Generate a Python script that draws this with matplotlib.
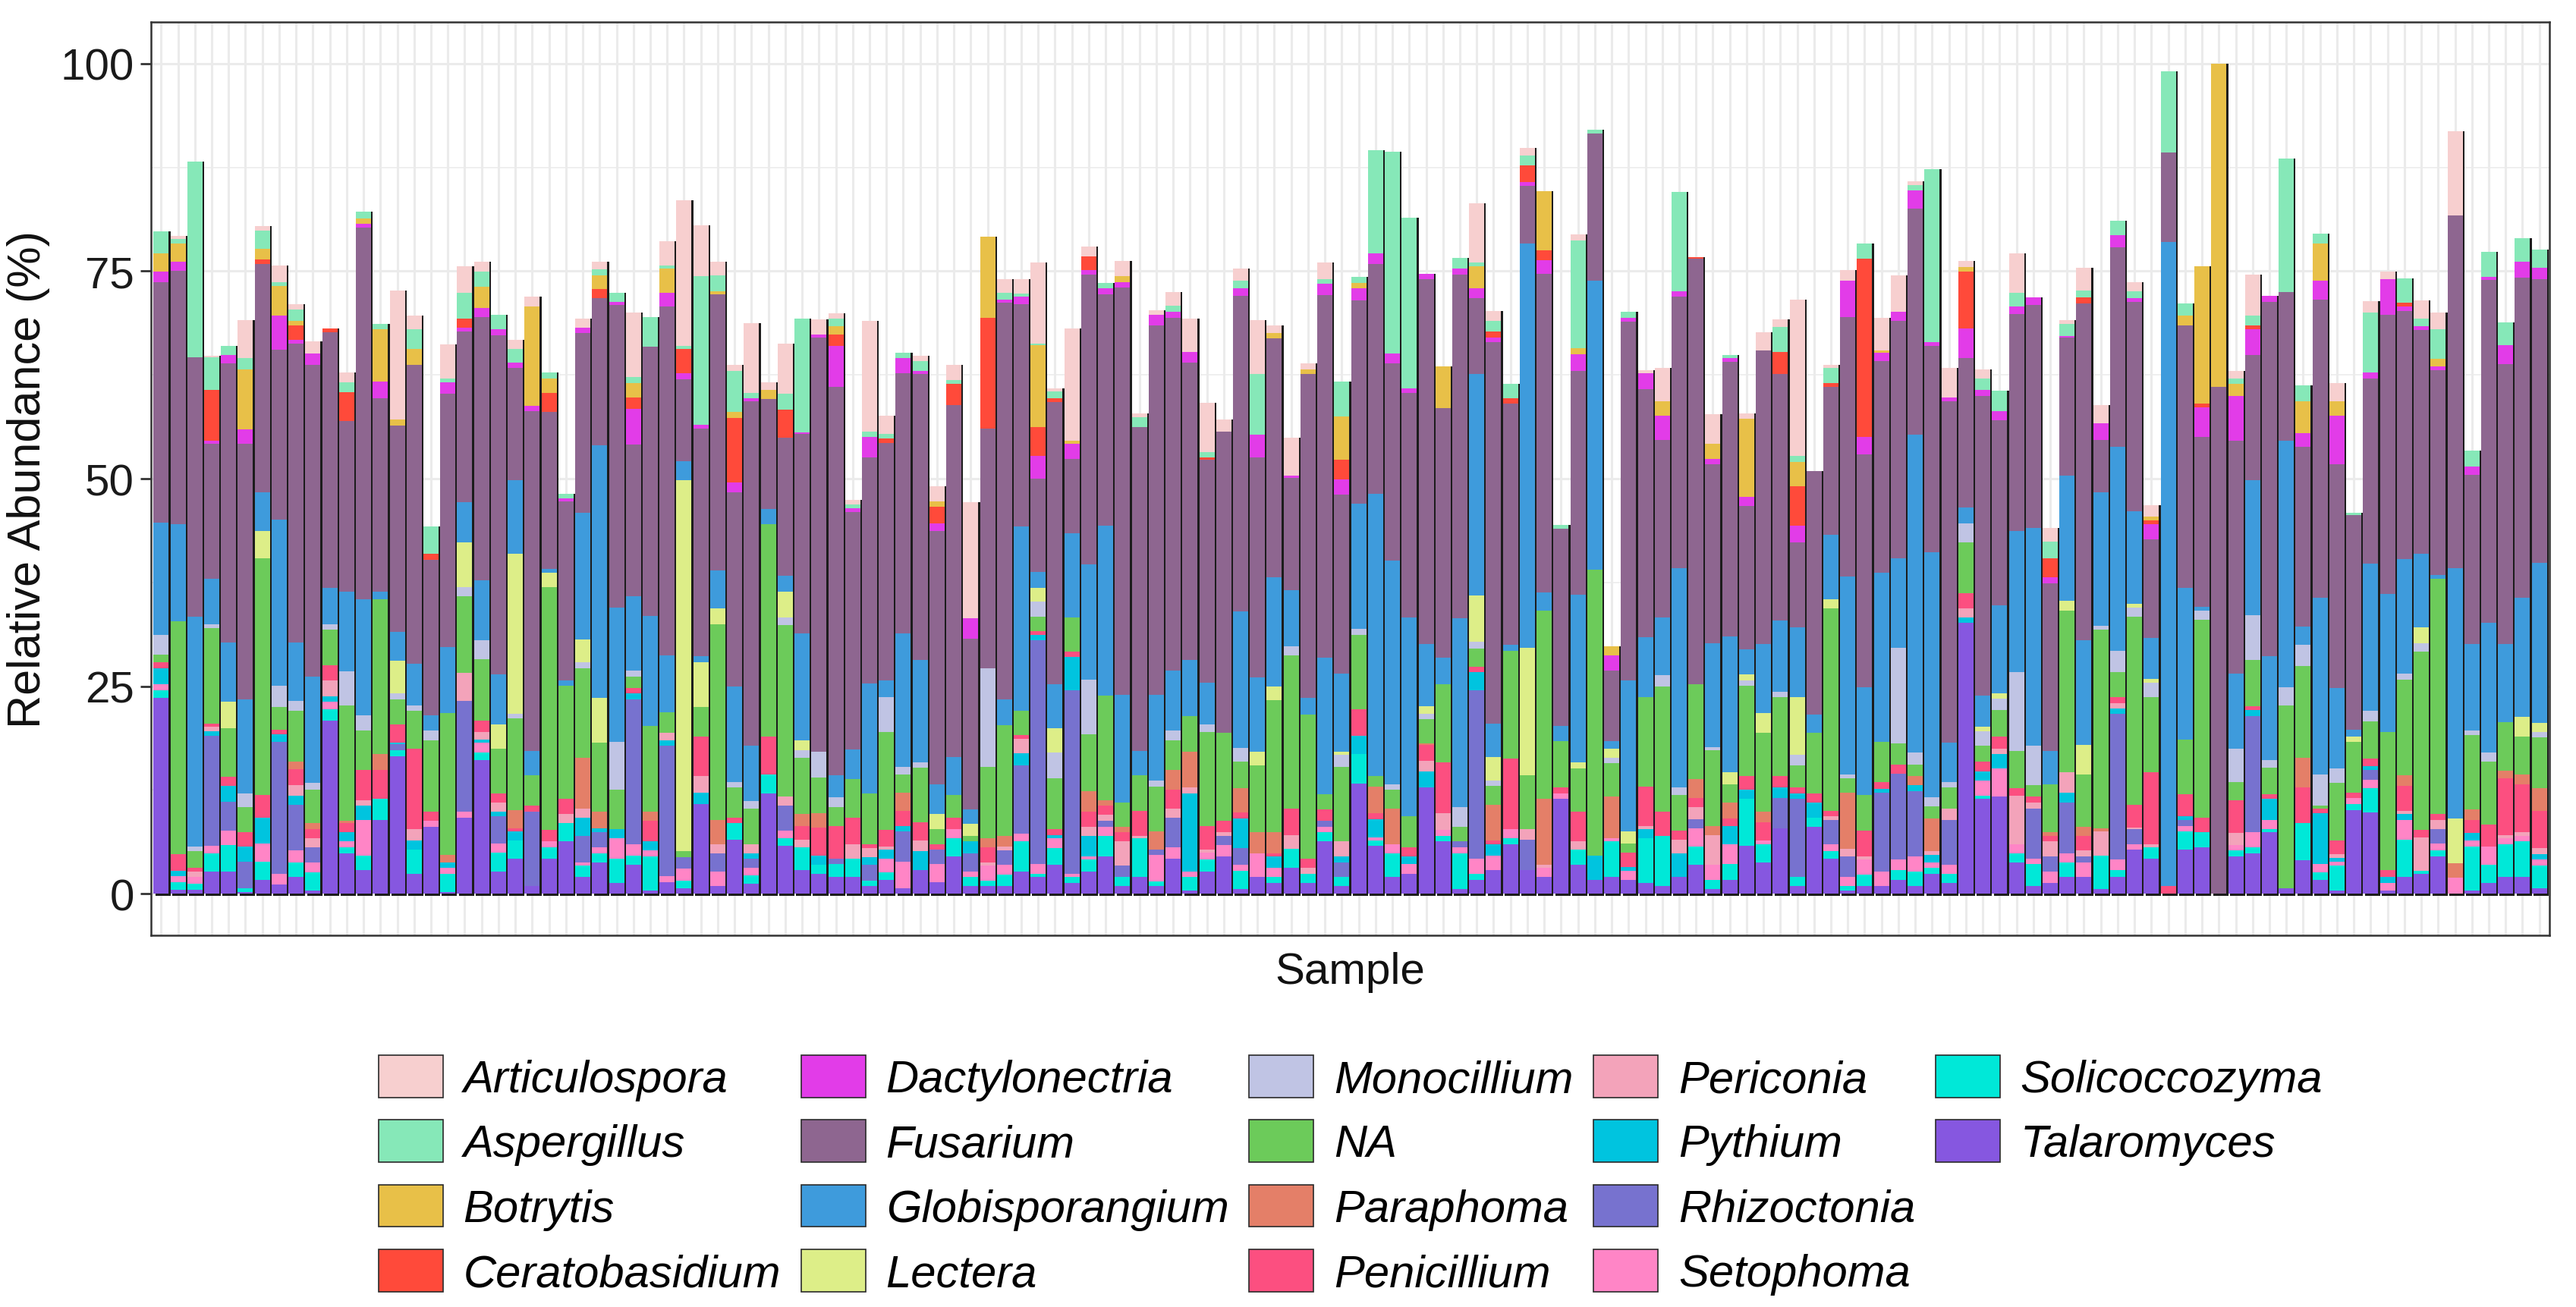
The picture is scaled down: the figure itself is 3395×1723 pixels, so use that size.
import matplotlib
matplotlib.use("Agg")
import matplotlib.pyplot as plt
from matplotlib.patches import Patch
import numpy as np

plt.rcParams['font.family'] = ['Liberation Sans', 'DejaVu Sans']

# ---------------- data (relative abundance %, 142 samples) ----------------
genera = ["Articulospora", "Aspergillus", "Botrytis", "Ceratobasidium", "Dactylonectria",
          "Fusarium", "Globisporangium", "Lectera", "Monocillium", "NA", "Paraphoma",
          "Penicillium", "Periconia", "Pythium", "Rhizoctonia", "Setophoma",
          "Solicoccozyma", "Talaromyces"]

colors = {"Articulospora": "#F7CFCF", "Aspergillus": "#86E8B8", "Botrytis": "#E8C048",
          "Ceratobasidium": "#FF4A3A", "Dactylonectria": "#E23CE8", "Fusarium": "#8E6690",
          "Globisporangium": "#3E9BDC", "Lectera": "#DDEE88", "Monocillium": "#C0C4E4",
          "NA": "#6CCB5A", "Paraphoma": "#E47F68", "Penicillium": "#FC4F80",
          "Periconia": "#F3A3BA", "Pythium": "#00C4DF", "Rhizoctonia": "#7772CF",
          "Setophoma": "#FF85C6", "Solicoccozyma": "#00E8D8", "Talaromyces": "#8657E0"}

talaromyces = [23.6, 0.5, 0.5, 2.7, 2.7, 0.2, 1.7, 1.1, 2, 0.4,
               20.9, 4.9, 2.9, 8.9, 16.6, 2.4, 8.1, 0.2, 9.2, 16.1,
               2.7, 4.2, 0.9, 4.2, 6.3, 2, 3.8, 1.3, 3.5, 0.4,
               1.4, 0.7, 10.8, 0.9, 6.5, 1.2, 12.1, 5.8, 2.9, 2.4,
               2, 2, 0.9, 1.7, 0.7, 2.9, 1.4, 4.5, 0.9, 0.9,
               0.9, 2.7, 2, 3.5, 1.3, 2.7, 4.5, 0.9, 2, 0.9,
               4.2, 0.4, 2.7, 4.5, 0.6, 2, 1.3, 3.1, 1.3, 6.3,
               0.9, 13.3, 5.8, 2, 2.4, 12.8, 6.3, 0.6, 1.7, 2.9,
               6, 2.9, 2, 11.4, 3.5, 1.7, 2, 1.7, 1.3, 0.9,
               2, 3.5, 0.6, 1.7, 5.8, 3.8, 7.9, 0.9, 8.1, 4.2,
               0.4, 0.9, 0.9, 1.7, 0.9, 2.4, 1.3, 32.6, 11.4, 11.7,
               3.8, 0.9, 1.3, 2, 2, 0.6, 2, 5.3, 4.2, 0,
               5.3, 5.6, 0, 4.5, 4.9, 7.4, 0.7, 4, 1.7, 0.4,
               10.1, 9.8, 0.4, 2, 2.4, 4.5, 0, 0.4, 1.3, 2,
               2, 0.7]

solicoccozyma = [0.9, 0.9, 0.7, 2.2, 3.2, 0.5, 2.2, 0, 1.8, 2.2,
                 1.3, 0.7, 1.7, 2.5, 0.7, 2.9, 0, 2.2, 0, 0.9,
                 2.3, 2.2, 0, 1.4, 2.2, 1.4, 1.1, 2.9, 1.1, 4.1,
                 0, 0.9, 0, 0, 2, 1, 2.3, 0.9, 2.7, 1.1,
                 1.6, 2.2, 0.7, 0.9, 0, 0, 0, 2.2, 1.1, 0.7,
                 1.4, 3.6, 0.4, 2, 0.7, 1.4, 2.5, 1.1, 4.7, 0.6,
                 0, 1.6, 1.4, 0, 2.2, 0, 0.7, 2.3, 1.1, 1.1,
                 1.1, 3.5, 0.6, 2.9, 0, 0, 0.7, 4.3, 0.7, 0,
                 0.7, 0, 0, 0, 1.8, 0, 4.3, 0, 5.4, 6.1,
                 0, 2.2, 1.1, 1.9, 5.6, 2.2, 0, 1.1, 1.1, 0.9,
                 0.5, 1.4, 0, 1.2, 1.8, 0.7, 1.1, 0, 0.4, 0,
                 1.1, 2.7, 0, 1.8, 0, 4, 0.9, 0, 1.4, 0,
                 2.2, 1.8, 0, 0.7, 0.7, 0.4, 0, 4.5, 0.9, 3,
                 0.7, 2.9, 0, 4.5, 0.4, 0.7, 0, 5.3, 2.2, 4,
                 4.3, 2.7]

setophoma = [0.7, 0.7, 0.8, 0.9, 1.7, 0, 2.2, 1.3, 1.4, 1.2,
             0.9, 0.7, 4.3, 0, 0, 0, 0.7, 0.7, 0.7, 1.2,
             1.1, 0, 0, 0.7, 0, 0.4, 0.7, 2.5, 1.4, 0.7,
             0.7, 1.4, 0, 1.8, 0, 0.9, 0, 0.9, 0, 0,
             0, 0, 0, 1.6, 3.2, 0, 2.2, 1.1, 0.7, 1.8,
             1.2, 0.9, 1.2, 1.2, 0.4, 0.4, 1.1, 0, 0, 3.2,
             1.4, 0.7, 0.9, 1.4, 0.7, 2.9, 1.1, 0, 0, 0.7,
             0, 0, 0.4, 1.1, 1.2, 0, 0.7, 0.7, 1.8, 1.7,
             1.1, 0, 1.1, 0.7, 0, 0, 0.4, 1.1, 0, 0,
             0, 2.2, 1.8, 2.4, 0, 0.4, 0, 0, 0, 0.9,
             1.1, 1.8, 1.8, 1.2, 1.8, 0.7, 1.1, 0, 1.8, 3.4,
             1.1, 0.6, 1.4, 1.1, 1.8, 0, 1.2, 0.7, 0, 0,
             0.7, 0, 0, 0.7, 1.8, 1.1, 0, 0, 1, 0.5,
             0.7, 1, 0.9, 2.4, 0, 0.9, 1.9, 0.7, 2.2, 0.7,
             0.7, 0.7]

rhizoctonia = [0, 0, 0, 13.2, 3.5, 3.2, 0, 15.9, 5.5, 1.8,
               0, 0, 0, 0, 0.7, 0, 0, 0, 13.3, 0,
               3.2, 0, 9, 0, 0, 3.2, 1.8, 0, 17.4, 0,
               15.7, 1.4, 0, 2.2, 0, 1.1, 0, 3, 0, 0,
               0.6, 0, 1.9, 0, 3.6, 0, 1.7, 0, 2.2, 0,
               1.7, 8.3, 26.9, 0, 22.1, 0, 0.7, 1.4, 0, 0.6,
               3.6, 0, 0, 1.1, 2, 0, 0, 0, 0, 0.7,
               1.8, 0, 0, 0, 0, 0, 0, 0.7, 20.3, 0,
               0, 3.6, 0, 0, 0, 0, 0, 0, 0, 0,
               0, 1.1, 0, 0, 0, 0, 3.6, 9.4, 0, 2.9,
               2.5, 0, 9.5, 10.4, 7.9, 0, 5.4, 0, 0, 0,
               0, 6.1, 1.8, 6.1, 0.7, 0, 17.6, 1.8, 0, 0,
               0.7, 0, 0, 0, 14, 0, 0, 0, 0, 0,
               0, 1.2, 0, 0, 0, 1.7, 0, 0, 0, 0,
               0, 0]

pythium = [2.0, 0.7, 0, 0.6, 1.9, 1.8, 3.1, 0.9, 1.1, 0,
           0.7, 1.1, 1.7, 0, 0.2, 1.1, 0, 0.7, 0, 0.4,
           0.6, 1.1, 0, 0, 0, 2.2, 0.5, 1.1, 0.7, 1.1,
           0.7, 0, 1.4, 0, 0, 0.7, 0, 0, 0, 1.1,
           0, 0, 0.9, 1.1, 0.7, 2.2, 0, 0, 1.4, 0,
           0, 1.4, 0.7, 0.4, 4, 2.5, 0, 0, 0, 0,
           0, 9.4, 0, 0, 3.6, 0, 1.4, 0, 0, 0,
           0.7, 2.2, 2.2, 0, 0.9, 1.9, 0, 0, 2.2, 1.4,
           0, 0, 0, 0, 0, 2.9, 0, 0.4, 1.1, 0,
           2.9, 0, 0, 2.2, 1.1, 0, 1.3, 0.7, 1.8, 0,
           0, 0, 0.4, 0, 0.7, 0.9, 0, 0.7, 1.1, 1.7,
           0, 0, 0, 1.2, 0, 0, 0.6, 0, 0, 0,
           0.4, 0, 0, 0, 0.7, 2.5, 0, 0, 6.1, 0.4,
           0, 0.5, 0.7, 0.7, 0, 0, 0, 0.9, 0, 0,
           0, 0.7]

periconia = [0, 0, 0.7, 0.5, 0, 0, 0, 0, 1.3, 1.1,
             1.9, 0, 0.7, 0, 0, 1.4, 0, 0, 3.4, 0.9,
             1.1, 0, 0, 0, 1.1, 1.1, 0, 0, 0, 0,
             0.9, 0, 2, 1.1, 0, 1.1, 0, 1.1, 0.9, 0,
             0, 1.8, 1.1, 0.4, 0, 1.3, 0, 0, 0, 0.4,
             0.5, 1.8, 0, 0, 0, 1.1, 0.7, 2.9, 0.3, 0,
             1.1, 0.7, 0.3, 0.4, 0, 0, 0, 1.7, 0.7, 0,
             1.8, 0, 0, 0, 0, 1.3, 2, 0, 0, 0,
             0, 1.3, 0.4, 0, 1, 0, 0, 0, 0.4, 0,
             1.6, 1.4, 3.6, 0, 0, 0, 0, 0, 0, 0.4,
             0.9, 0.4, 0, 0, 0, 0.4, 1.4, 1.1, 0, 0.7,
             5.8, 0.7, 1.8, 2.4, 0.7, 2.9, 0.7, 0.2, 0.4, 0,
             0, 0, 0, 1.4, 0, 0, 0, 0, 0, 0.5,
             0, 0, 0, 0.4, 4, 1.1, 0, 0, 0, 0.4,
             0.4, 0.7]

penicillium = [0.7, 2.0, 0.4, 0.4, 1.1, 1.7, 2.7, 0.6, 1.9, 1.1,
               1.8, 1.1, 3.6, 3.5, 2.2, 9.7, 1.1, 0, 0, 1.4,
               1.1, 0.4, 0.7, 1.4, 1.8, 0, 0, 0, 0.7, 2.5,
               0, 0, 4.7, 0, 0.7, 0, 4.5, 0, 1.7, 3.4,
               4, 3.2, 0.5, 2, 1.8, 2.2, 0.7, 1.4, 0, 1.8,
               0, 0.4, 0.4, 0.7, 0.7, 1.8, 1.1, 1.1, 3, 0,
               2.2, 0, 2.9, 1.4, 0.7, 0, 0.4, 3.2, 1.1, 1.4,
               0, 3.2, 0.7, 0, 1.1, 1.9, 6.1, 0, 0.6, 0.4,
               8.5, 0, 0, 0.7, 3.6, 0, 0, 1.8, 4.7, 2.9,
               1.1, 1.1, 0, 0.9, 1.7, 2.2, 1.4, 0.7, 1.1, 0.7,
               0, 3.1, 0.9, 1.1, 0, 0, 0, 1.8, 1.2, 1.4,
               0.9, 0.7, 0.7, 0, 1.8, 0, 0.7, 2.7, 8.6, 0.9,
               2.7, 1.8, 0, 4, 0.5, 0.6, 0, 4.3, 0.6, 1.6,
               0.7, 0.9, 0.9, 3, 0.9, 0.7, 0, 1.6, 2.6, 6.8,
               5.8, 4.5]

paraphoma = [0, 0, 0, 0, 0, 0, 0, 0, 0.9, 0.7,
             0, 0.3, 0, 1.9, 0, 0, 0, 0.9, 0, 0,
             0, 2.2, 0, 0, 0, 6.1, 2, 0, 0, 1.1,
             0, 0, 0, 2.9, 0, 0, 0, 0, 1.4, 1.7,
             0, 0, 0, 0, 2.2, 0, 0, 0, 0, 1.1,
             1.3, 0, 0, 0, 0, 2.5, 0.7, 0.7, 0, 2.2,
             2.4, 4.3, 0, 0, 2.9, 2.5, 2.5, 0, 0, 0,
             0, 0, 3.2, 4.3, 0, 0.2, 0, 0, 0, 4.3,
             0, 0, 7.9, 0, 0, 0, 5, 0, 0, 0,
             0, 2.3, 1.1, 1.9, 0, 1.3, 0, 0, 0, 0,
             6.8, 0, 0, 0, 1.1, 4, 0, 0, 0, 0,
             0, 0, 0.4, 0, 1.1, 0.4, 0, 0, 0, 0,
             0, 0, 0, 0, 0, 0, 0, 3.6, 0, 0,
             0, 0, 0, 1.3, 0, 0, 1.8, 1.3, 0, 0.9,
             1.2, 2.7]

na_group = [0.9, 28, 2, 11.5, 5.8, 3, 28.5, 2.7, 6.1, 4,
            4.3, 13.9, 4.8, 18.7, 3, 4.5, 8.6, 17.1, 9.2, 7.4,
            5.4, 11, 3.7, 29.2, 13.7, 10.8, 8.3, 4.7, 1.4, 10.3,
            2.5, 0.7, 3.6, 23.6, 3.6, 4.3, 25.6, 20.7, 6.8, 4.3,
            2.2, 4.6, 6.1, 11.8, 2.2, 6.6, 1.8, 2.7, 0.7, 8.6,
            13.3, 2.9, 1.8, 6.1, 4.1, 6.8, 12.6, 2.9, 4.3, 5.4,
            3.6, 4.3, 11.3, 10.6, 3.2, 8.1, 15.9, 18.4, 17.4, 1.8,
            9, 9, 1.3, 2.2, 3.7, 2.9, 9.4, 1.8, 2.2, 2.3,
            13, 6.5, 22.7, 5.6, 5.2, 34.4, 4, 1.1, 10.8, 15.1,
            4.3, 11.4, 9.1, 2.2, 10.9, 9.5, 9.5, 2.7, 7.3, 24.4,
            1.7, 4.3, 4.8, 2.5, 1.4, 1.4, 2.5, 6.1, 1.9, 3.2,
            4.5, 1.4, 5.8, 19.5, 6.3, 23.9, 3, 22.7, 9.1, 0,
            6.6, 23.8, 0, 2.2, 5.6, 3.2, 22, 11, 0.3, 7,
            6.1, 4.5, 16.6, 11.5, 21.5, 28.3, 0, 8.9, 7.6, 5.9,
            4.5, 6.1]

monocillium = [2.4, 0, 0.6, 0.5, 0, 1.7, 0, 2.6, 1.2, 0.9,
               0.7, 4.1, 1.8, 0, 0.7, 0.7, 1.2, 0, 1.1, 2.2,
               0, 0.6, 0, 0, 0, 0.7, 0, 5.8, 0.7, 0,
               0, 0, 0, 0, 0.7, 0.9, 0, 0.9, 0.9, 3.1,
               1.2, 0, 0, 4.2, 0.9, 0.6, 0, 0, 0, 11.9,
               0, 0, 1.8, 3.1, 0, 6.6, 0, 0, 0, 0.7,
               1.2, 0, 0.9, 0, 1.7, 0, 0, 1.1, 0, 0,
               1.4, 0.7, 0, 0.7, 0, 0.7, 0, 2.3, 0.9, 0.6,
               0, 0, 0, 0, 0, 0, 0.7, 0, 0, 1.3,
               0.9, 0, 0.4, 0, 0.6, 0, 0.6, 1.2, 0, 0,
               0.5, 0, 0, 11.5, 1.4, 1.1, 0.7, 2.3, 1.8, 1.4,
               9.5, 4.7, 0, 0, 0, 0.5, 2.6, 1.1, 1.7, 0,
               0, 1.1, 0, 4, 5.4, 0.9, 2.2, 2.6, 3.8, 1.7,
               0, 1.2, 0, 0.7, 1, 0, 0, 0.6, 1.1, 0,
               0, 0.7]

lectera = [0, 0, 0, 0, 3.2, 0, 3.3, 0, 0, 0,
           0, 0, 0, 0, 4, 0, 0, 0, 5.4, 0,
           2.9, 19.3, 0, 1.8, 0, 2.7, 5.4, 0, 0, 0,
           0, 44.7, 5.4, 1.9, 0, 0, 0, 3.1, 1.2, 0,
           0, 0, 0, 0, 0, 0, 1.8, 0, 1.4, 0,
           0, 0, 1.6, 2.9, 0, 0, 0, 0, 0, 0,
           0, 0, 0, 0, 0, 1.6, 1.7, 0, 0, 0,
           0.4, 0, 0, 0, 0, 0.9, 0, 0, 5.5, 2.9,
           0, 15.3, 0, 0, 0.7, 0, 1.1, 1.4, 0, 0,
           0, 0, 0, 1.4, 0.7, 2.4, 0, 7, 0, 1.1,
           0, 0, 0, 0, 0, 0, 0, 0, 0.5, 0.6,
           0, 0, 0, 1.2, 3.5, 0, 0, 0.4, 0.5, 0,
           0, 0, 0, 0, 0, 0, 0, 0, 0, 0,
           0.6, 0, 0, 0, 1.9, 0, 5.4, 0, 0, 0,
           2.4, 1.1]

globisporangium = [13.5, 11.7, 27.7, 5.4, 7.2, 11.3, 4.7, 20, 7.1, 12.8,
                   4.3, 9.6, 14, 0.9, 3.4, 5, 1.8, 7.9, 4.9, 7.3,
                   6, 8.8, 2.9, 0.4, 0.6, 15.3, 30.4, 16.2, 8.9, 13.3,
                   6.8, 2.3, 0.7, 4.5, 11.5, 6.6, 1.8, 1.9, 12.9, 0,
                   2.7, 3.6, 13.2, 2, 16.1, 12.4, 3.6, 4.6, 1.8, 0,
                   3.1, 22.2, 2, 5.3, 10.1, 13.9, 20.4, 13, 2.9, 10.4,
                   7.2, 6.8, 5, 0, 16.4, 9, 13.1, 6.8, 2, 16.4,
                   9.4, 15.1, 34, 26.9, 24, 7.5, 3.2, 22.8, 26.7, 4,
                   0.7, 48.7, 2.2, 1.8, 20.2, 34.8, 0.9, 18.2, 7.2, 7,
                   26.4, 0, 12.5, 16.4, 3, 8.3, 8.6, 8.4, 2.2, 7.7,
                   23.8, 13, 20.4, 10.8, 38.3, 29.5, 4.7, 1.9, 3.8, 10.6,
                   17, 26.3, 4, 15.1, 12.6, 16.1, 24.5, 11.2, 4.9, 77.6,
                   18.2, 0.5, 0, 9, 16.2, 12.5, 29.7, 2.2, 21.3, 9.7,
                   0.9, 17.8, 16.6, 13.8, 8.9, 0.5, 30.1, 10.4, 15.6, 9.4,
                   14.4, 19.3]

fusarium = [29, 30.5, 31.2, 16.3, 33.6, 30.8, 27.5, 20.4, 36, 37.5,
            30.8, 20.5, 44.7, 23.3, 24.9, 36, 18.7, 30.5, 20.5, 31.7,
            40.9, 13.5, 40.9, 18.9, 21.6, 21.6, 17.7, 36.4, 18.3, 32.4,
            42, 9.9, 27.4, 33.3, 23.4, 41.5, 13.3, 16.6, 24, 49.9,
            46.8, 28.6, 27.3, 28.6, 31.3, 34.4, 30.5, 42.4, 20.5, 28.8,
            47.8, 26.8, 11.2, 34, 9, 34.9, 27.9, 49, 39, 44.5,
            42.5, 35.8, 26.9, 36.3, 38, 26.5, 28.8, 13.5, 39, 43.7,
            21.6, 24.5, 27.7, 23.8, 27, 43.9, 30.1, 41.4, 9.1, 45.9,
            29, 7, 38.4, 23.8, 27, 17.8, 8.5, 43.2, 29.9, 21.4,
            32.7, 51.3, 21.5, 33.1, 17.3, 35.3, 29.7, 10.2, 29.3, 17.9,
            31.3, 28, 25.5, 28.6, 27.2, 24.9, 41.1, 18, 36.1, 22.3,
            26.1, 26.8, 20.2, 16.6, 40.6, 6.3, 24.1, 25.2, 11.9, 10.8,
            31.7, 20.4, 61.1, 28.1, 15.1, 42.7, 17.9, 21.6, 35.9, 26.9,
            25.8, 22.3, 33.6, 29.9, 26.9, 24.7, 42.5, 20.4, 41.3, 33.7,
            38.5, 34.1]

dactylonectria = [1.2, 1.1, 0, 0.4, 1, 1.7, 0, 4.1, 0.4, 1.4,
                  0, 0, 0.5, 2, 0, 0, 0, 1.4, 0.5, 1.1,
                  0.7, 0.7, 0.7, 0, 0.3, 0.7, 0, 0.4, 4.3, 0,
                  1.7, 0.7, 0.5, 0, 1.1, 0.4, 0, 0, 0.2, 0.4,
                  4.9, 0.4, 2.4, 0, 1.8, 0.4, 0.9, 0, 2.5, 0,
                  0.4, 0.9, 2.7, 0, 1.8, 0.5, 0.7, 0.7, 0, 1.2,
                  0.7, 1.3, 0, 0, 0.9, 2.7, 0, 0.3, 0, 1.4,
                  1.8, 1.4, 1.2, 1.2, 0.6, 0.7, 0, 0.7, 1.2, 0.6,
                  0, 0.4, 1.6, 0, 2, 0, 1.8, 0.5, 1.9, 2.9,
                  0.7, 0, 0.7, 0.4, 1.1, 0, 0, 2, 0, 0,
                  4.3, 2.1, 1, 1.1, 2.2, 0.4, 0.5, 3.6, 0.7, 1.1,
                  0.9, 0.9, 0.7, 0.2, 0, 2, 1.4, 0.4, 1.8, 0,
                  0, 3.6, 0, 5.4, 3.1, 0.7, 0, 1.7, 2.2, 5.9,
                  0, 0.7, 4.3, 0.5, 0.5, 0.4, 0, 1, 0.4, 2.3,
                  1.9, 1.4]

ceratobasidium = [0, 0, 0, 6.1, 0, 0, 0.5, 0, 1.8, 0,
                  0.5, 3.5, 0, 0, 0, 0, 0.8, 0, 1.1, 0,
                  0, 0, 0, 2.3, 0, 0, 1.1, 0, 1.4, 0,
                  0, 2.9, 0, 0, 7.8, 0, 0, 3.4, 0, 0,
                  1.4, 0, 0, 0.5, 0, 0, 2, 2.5, 0, 13.4,
                  0, 0, 3.5, 0.5, 0, 1.7, 0, 0, 0, 0,
                  0, 0, 0.3, 0, 0, 0, 0, 0, 0, 0,
                  2.4, 0, 0, 0, 0, 0, 0, 0, 0, 0.7,
                  0.7, 2, 1.2, 0, 0, 0, 0, 0, 0, 0,
                  0, 0.2, 0, 0, 0, 0, 2.7, 4.8, 0, 0.4,
                  0, 21.5, 0, 0, 0, 0, 0, 6.8, 0, 0,
                  0, 0, 2.3, 0, 0.7, 0, 0, 0, 0.5, 0,
                  0, 0.4, 0, 0, 0.5, 0, 0, 0, 0, 0,
                  0, 0, 0, 0.5, 0, 0, 0, 0, 0, 0,
                  0, 0]

botrytis = [2.2, 2.2, 0, 0, 0, 7.3, 1.3, 3.6, 0.5, 0,
            0, 0, 0.6, 6.3, 0.7, 1.9, 0, 0, 0, 2.5,
            0, 0, 11.9, 1.8, 0, 0, 1.7, 0, 1.7, 0,
            2.9, 0, 0, 0.4, 0.7, 0, 1.1, 0, 0, 0,
            1, 0, 0, 0, 0, 0, 0.7, 0, 0, 9.7,
            0, 0, 9.9, 0, 0.4, 0, 0, 0.7, 0, 0,
            0, 0, 0, 0, 0, 0, 0.6, 0, 0.6, 0,
            5.2, 0.7, 0, 0, 0, 0, 5, 0, 2.7, 0,
            0, 0, 7.1, 0, 0.7, 0, 1.1, 0, 0, 1.7,
            0, 0, 1.8, 0, 9.4, 0, 0, 2.9, 0, 0,
            0, 0, 0.2, 0, 0, 0, 0, 0.6, 0, 0,
            0, 0, 0, 0, 0, 0, 0, 0, 0.4, 0,
            1.1, 16.6, 38.9, 1.4, 0, 0, 0, 3.8, 4.5, 1.7,
            0, 0, 0, 0, 0, 0.9, 0, 0, 0, 0,
            0, 0]

aspergillus = [2.7, 0.6, 23.6, 3.9, 1.1, 1.3, 2.2, 0.5, 1.4, 0,
               0, 1.2, 0.9, 0.6, 0, 2.4, 3.2, 0.5, 3.1, 1.8,
               1.7, 1.6, 0, 0.7, 0.6, 0, 0.7, 1.1, 0.7, 3.6,
               0.4, 0.4, 17.9, 1.9, 5, 0.6, 0, 1.9, 13.7, 0,
               0.9, 0.5, 0.7, 0.6, 0.7, 1.2, 0, 0.5, 0, 0,
               0.8, 0.4, 0.2, 0.8, 0, 0, 0.7, 0, 1.2, 0,
               0.7, 0, 0.6, 0, 0.9, 7.3, 0, 0, 0, 0.5,
               4.2, 0.7, 12.5, 24.3, 20.5, 0, 0, 1.3, 0.4, 1.3,
               1.7, 1.2, 0, 0.4, 13, 0.4, 0, 0.7, 0, 0,
               11.9, 0, 0, 0.4, 0, 0, 3, 0.7, 0, 1.8,
               0, 1.8, 0, 0, 0.7, 20.9, 0, 0, 1.4, 2.5,
               1.7, 0, 2, 1.4, 0.9, 0, 1.8, 0.9, 0, 9.8,
               1.5, 0, 0, 0.7, 1.1, 0, 16.1, 1.9, 1.2, 0,
               0.3, 7.2, 0, 2.9, 0.9, 3.6, 0, 1.9, 3, 2.7,
               2.9, 2.2]

articulospora = [0, 0.3, 0, 0.2, 0, 4.6, 0.5, 2, 0.6, 1.4,
                 0, 1.2, 0, 0, 15.6, 1.6, 0, 4.1, 3.2, 1.2,
                 0, 1.1, 1.2, 0, 0, 1.1, 0.9, 0, 7.8, 0,
                 2.9, 17.5, 6.1, 1.6, 0.7, 8.4, 0.9, 6.1, 0, 1.8,
                 0.6, 0.5, 13.3, 2.2, 0, 0.6, 1.8, 1.8, 14, 0,
                 1.6, 1.7, 9.7, 0.4, 13.5, 1.2, 0, 1.8, 0.5, 0.6,
                 1.7, 4, 5.9, 1.4, 1.5, 6.5, 1, 4.5, 0.7, 2,
                 0, 0, 0, 0, 0, 0, 0, 0, 7.2, 1.2,
                 0, 0.9, 0, 0, 0.7, 0, 0, 0, 0.4, 4,
                 0, 0, 3.6, 0, 0.7, 2.2, 0.9, 18.9, 0, 0.4,
                 1.3, 0, 4, 4.4, 0.4, 0, 3.5, 0.7, 1.1, 0,
                 4.7, 0, 1.7, 0.5, 2.7, 2.2, 0, 1.1, 1.4, 0,
                 0, 0, 0, 0.9, 5, 0, 0, 0, 0, 2.2,
                 0, 1.4, 0.9, 0, 2.2, 2, 10.1, 0, 0, 0,
                 0, 0]

series = {"Articulospora": articulospora, "Aspergillus": aspergillus, "Botrytis": botrytis,
          "Ceratobasidium": ceratobasidium, "Dactylonectria": dactylonectria,
          "Fusarium": fusarium, "Globisporangium": globisporangium, "Lectera": lectera,
          "Monocillium": monocillium, "NA": na_group, "Paraphoma": paraphoma,
          "Penicillium": penicillium, "Periconia": periconia, "Pythium": pythium,
          "Rhizoctonia": rhizoctonia, "Setophoma": setophoma,
          "Solicoccozyma": solicoccozyma, "Talaromyces": talaromyces}

yticks = [0, 25, 50, 75, 100]

# ---------------- figure ----------------
W, H = 3395, 1724
fig = plt.figure(figsize=(W / 200, H / 200), dpi=200)
ax = fig.add_axes([199 / W, 1 - 1234 / H, (3360 - 199) / W, (1234 - 30) / H])

n = len(talaromyces)
x = np.arange(1, n + 1)
totals = np.zeros(n)
for g in genera:
    totals += np.array(series[g], dtype=float)

# dark shadow / outline to the right and bottom of each bar
ax.bar(x + 0.1, totals + 0.25, bottom=-0.25, width=0.9, color="#1c1c1c",
       linewidth=0, zorder=2)

bottom = np.zeros(n)
for g in reversed(genera):          # Talaromyces at the bottom, Articulospora on top
    vals = np.array(series[g], dtype=float)
    ax.bar(x, vals, bottom=bottom, width=0.9, color=colors[g], linewidth=0, zorder=3)
    bottom += vals

ax.set_xlim(0.4, n + 0.6)
ax.set_ylim(-5, 105)

ax.set_xticks(x)
ax.set_xticklabels([])
ax.tick_params(axis="x", length=0)
ax.set_yticks(yticks)
ax.set_yticks([12.5, 37.5, 62.5, 87.5], minor=True)
ax.set_yticklabels([str(t) for t in yticks], fontsize=21, color="#1a1a1a")
ax.tick_params(axis="y", which="major", length=5, width=1.0, color="#333333", pad=3)
ax.tick_params(axis="y", which="minor", length=0)

ax.set_axisbelow(True)
ax.grid(True, which="major", axis="both", color="#EBEBEB", linewidth=1.1, zorder=0)
ax.grid(True, which="minor", axis="y", color="#EBEBEB", linewidth=0.55, zorder=0)
for s in ax.spines.values():
    s.set_color("#333333")
    s.set_linewidth(0.9)

ylab = ax.set_ylabel("Relative Abundance (%)", fontsize=22, color="#111111")
ylab.set_va("center")
ax.yaxis.set_label_coords(-0.051, 0.5)
xlab = ax.set_xlabel("Sample", fontsize=21, color="#111111")
xlab.set_va("center")
ax.xaxis.set_label_coords(0.5, -0.04)

handles = [Patch(facecolor=colors[g], edgecolor="#2a2a2a", linewidth=0.6, label=g)
           for g in genera]
# two empty slots so the legend columns hold 4, 4, 4, 4, 2 entries
handles += [Patch(facecolor="none", edgecolor="none", label=" ") for _ in range(2)]
leg = fig.legend(handles=handles, loc="upper center", ncol=5,
                 bbox_to_anchor=(1780 / W, 1 - 1362 / H), frameon=False,
                 prop={"style": "italic", "size": 21.5},
                 handlelength=1.42, handleheight=1.06, handletextpad=0.45,
                 columnspacing=0.45, labelspacing=0.42, borderpad=0)

fig.savefig("out.png", dpi=200, facecolor="white")
